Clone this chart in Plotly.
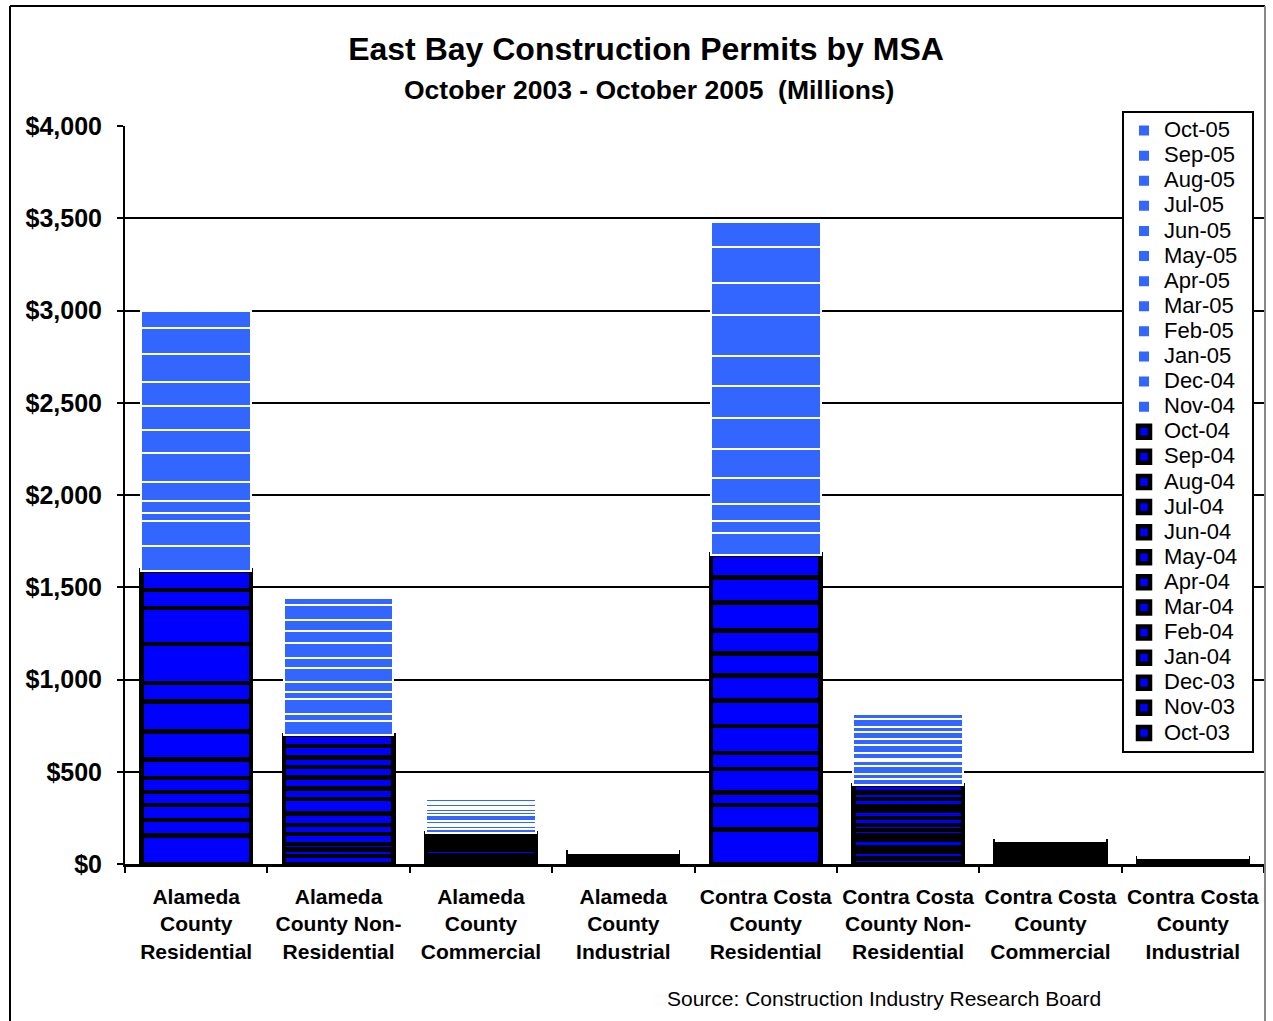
import plotly.graph_objects as go

# Monthly permit series, oldest first (stacked bottom to top)
months = ["Oct-03", "Nov-03", "Dec-03", "Jan-04", "Feb-04", "Mar-04", "Apr-04",
          "May-04", "Jun-04", "Jul-04", "Aug-04", "Sep-04", "Oct-04",
          "Nov-04", "Dec-04", "Jan-05", "Feb-05", "Mar-05", "Apr-05",
          "May-05", "Jun-05", "Jul-05", "Aug-05", "Sep-05", "Oct-05"]

categories = ["Alameda<br>County<br>Residential",
              "Alameda<br>County Non-<br>Residential",
              "Alameda<br>County<br>Commercial",
              "Alameda<br>County<br>Industrial",
              "Contra Costa<br>County<br>Residential",
              "Contra Costa<br>County Non-<br>Residential",
              "Contra Costa<br>County<br>Commercial",
              "Contra Costa<br>County<br>Industrial"]

# Permit values in $ millions, one list per MSA category, Oct-03 .. Oct-05
alameda_res = [155, 83, 83, 70, 74, 101, 152, 163, 101, 210, 195, 98, 105,
               134, 136, 43, 65, 101, 159, 125, 130, 128, 154, 141, 90]
alameda_nonres = [43, 36, 30, 53, 50, 62, 79, 56, 60, 56, 53, 61, 60,
                  76, 40, 81, 36, 57, 73, 56, 80, 63, 60, 85, 38]
alameda_comm = [14, 12, 10, 12, 30, 10, 12, 8, 10, 12, 10, 10, 16,
                25, 15, 12, 15, 30, 20, 15, 12, 15, 12, 15, 12]
alameda_ind = [5, 4, 5, 5, 4, 5, 5, 5, 4, 5, 5, 5, 5,
               0.6, 0.6, 0.6, 0.6, 0.6, 0.6, 0.6, 0.6, 0.6, 0.6, 0.6, 2.4]
contra_res = [188, 132, 68, 127, 87, 146, 137, 136, 121, 123, 153, 134, 125,
              117, 63, 96, 139, 159, 166, 172, 166, 222, 171, 195, 134]
contra_nonres = [30, 38, 24, 40, 26, 26, 28, 38, 36, 26, 40, 36, 40,
                 33, 25, 45, 25, 12, 36, 40, 36, 33, 31, 43, 27]
contra_comm = [8, 10, 9, 11, 10, 9, 12, 10, 9, 10, 9, 10, 9,
               6, 5, 6, 5, 6, 6, 5, 6, 5, 6, 5, 8]
contra_ind = [3, 2, 2, 3, 2, 3, 2, 2, 3, 2, 3, 2, 2,
              0.4, 0.4, 0.4, 0.4, 0.4, 0.4, 0.4, 0.4, 0.4, 0.4, 0.4, 0.4]

y_ticks = [0, 500, 1000, 1500, 2000, 2500, 3000, 3500, 4000]
y_tick_labels = ["$0", "$500", "$1,000", "$1,500", "$2,000",
                 "$2,500", "$3,000", "$3,500", "$4,000"]

series_by_category = [alameda_res, alameda_nonres, alameda_comm, alameda_ind,
                      contra_res, contra_nonres, contra_comm, contra_ind]

FONT = "Liberation Sans, Arial, Helvetica, sans-serif"
DARK_FILL = "#0000FF"
LIGHT_FILL = "#3366FF"

fig = go.Figure()
for i, month in enumerate(months):
    first_year = i <= 12
    fig.add_trace(go.Bar(
        x=categories,
        y=[vals[i] for vals in series_by_category],
        name='<span style="font-size:22px">' + month + '</span>&nbsp;&nbsp;',
        marker=dict(
            color=DARK_FILL if first_year else LIGHT_FILL,
            line=dict(color="black" if first_year else "white",
                      width=4.5 if first_year else 2),
        ),
        hovertemplate=month + ": %{y:,.0f}M<extra></extra>",
    ))

# Chart frame (left, top, right edges)
def px_x(px):
    return (px - 125) / 1139

def px_y(py):
    return (864 - py) / 738

shapes = [
    dict(type="line", xref="paper", yref="paper", x0=px_x(10), x1=px_x(10),
         y0=px_y(1040), y1=px_y(6), line=dict(color="black", width=2)),
    dict(type="line", xref="paper", yref="paper", x0=px_x(10), x1=px_x(1265),
         y0=px_y(6), y1=px_y(6), line=dict(color="black", width=2)),
    dict(type="line", xref="paper", yref="paper", x0=px_x(1265), x1=px_x(1265),
         y0=px_y(1040), y1=px_y(6), line=dict(color="#888888", width=2)),
]

fig.update_layout(
    width=1273, height=1021,
    margin=dict(l=125, r=9, t=126, b=157),
    paper_bgcolor="white", plot_bgcolor="white",
    barmode="stack", bargap=0.23,
    font=dict(family=FONT, color="black"),
    title=dict(text="East Bay Construction Permits by MSA",
               font=dict(family=FONT, size=32, weight="bold", color="black"),
               x=646 / 1273, xanchor="center", xref="container",
               y=1 - 49 / 1021, yanchor="middle", yref="container"),
    annotations=[
        dict(text="October 2003 - October 2005&nbsp;&nbsp;(Millions)",
             xref="paper", yref="paper", x=px_x(649), y=px_y(90),
             xanchor="center", yanchor="middle", showarrow=False,
             font=dict(family=FONT, size=26.5, weight="bold", color="black")),
        dict(text="Source: Construction Industry Research Board",
             xref="paper", yref="paper", x=px_x(884), y=px_y(998),
             xanchor="center", yanchor="middle", showarrow=False,
             font=dict(family=FONT, size=21, color="black")),
    ],
    shapes=shapes,
    legend=dict(
        x=px_x(1122), y=px_y(111), xanchor="left", yanchor="top",
        traceorder="reversed", bgcolor="white",
        bordercolor="black", borderwidth=2, maxheight=900,
        font=dict(family=FONT, size=17, color="black"),
    ),
    xaxis=dict(
        showline=True, linecolor="black", linewidth=2.5,
        ticks="outside", tickson="boundaries", ticklen=6, tickwidth=2,
        tickcolor="black", showgrid=False, ticklabelstandoff=12,
        tickfont=dict(family=FONT, size=21, weight="bold", color="black"),
    ),
    yaxis=dict(
        range=[0, 4000], tickmode="array", tickvals=y_ticks,
        ticktext=y_tick_labels,
        showline=True, linecolor="black", linewidth=2,
        ticks="outside", ticklen=6, tickwidth=2, tickcolor="black",
        showgrid=True, gridcolor="black", gridwidth=2, zeroline=False,
        ticklabelstandoff=10,
        tickfont=dict(family=FONT, size=25, weight="bold", color="black"),
    ),
)

fig.write_html("out.html")
